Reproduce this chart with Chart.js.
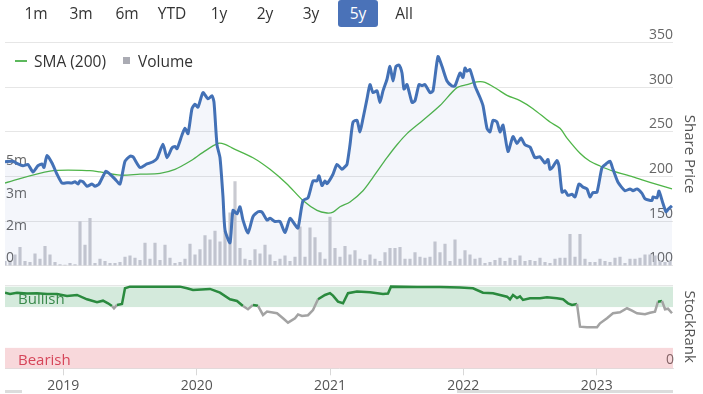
<!DOCTYPE html>
<html>
<head>
<meta charset="utf-8">
<script src="https://cdn.jsdelivr.net/npm/chart.js@4/dist/chart.umd.min.js"></script>
<style>
  body { margin: 0; background: #fff; font-family: "Open Sans", sans-serif; }
  #wrap { position: relative; width: 703px; height: 394px; overflow: hidden; }
  .btn { position: absolute; top: 0; height: 27px; line-height: 27px; font-size: 15.5px; color: #333; transform: translateX(-50%); }
  .btn.on { background: #4a72b8; color: #fff; width: 40px; text-align: center; border-radius: 3px; transform: none; }
  #legend { position: absolute; top: 48px; left: 15px; font-size: 15.5px; color: #333; }
  #legend span { display: inline-block; vertical-align: middle; }
  #c1 { position: absolute; left: 0; top: 0; }
  #c2 { position: absolute; left: 0; top: 275px; }
  .nav { position: absolute; top: 390px; height: 3px; background: #dcdcdc; }
</style>
</head>
<body>
<div id="wrap">
  <canvas id="c1" width="703" height="275"></canvas>
  <canvas id="c2" width="703" height="119"></canvas>
  <div class="btn" style="left:36px">1m</div>
  <div class="btn" style="left:81px">3m</div>
  <div class="btn" style="left:127px">6m</div>
  <div class="btn" style="left:172px">YTD</div>
  <div class="btn" style="left:219px">1y</div>
  <div class="btn" style="left:265px">2y</div>
  <div class="btn" style="left:311px">3y</div>
  <div class="btn on" style="left:338px">5y</div>
  <div class="btn" style="left:404px">All</div>
  <div id="legend">
    <span style="width:12px;height:2px;background:#5cb85c;margin-right:7px"></span><span>SMA (200)</span>
    <span style="width:7px;height:7px;background:#aaabb3;margin:0 8px 0 13px"></span><span>Volume</span>
  </div>
  <div class="nav" style="left:5px;width:17px"></div>
  <div class="nav" style="left:457px;width:216px"></div>
</div>
<script>
const xMin = 2018.5625;
const xMax = 2023.5725;
const yearTicks = [2019, 2020, 2021, 2022, 2023];

const priceDates = [2018.5625, 2018.6225, 2018.66, 2018.6975, 2018.735, 2018.7725, 2018.81, 2018.84, 2018.855, 2018.8775,
  2018.915, 2018.9525, 2018.99, 2019.0275, 2019.065, 2019.0875, 2019.11, 2019.125, 2019.1475, 2019.1775,
  2019.215, 2019.2375, 2019.2675, 2019.32, 2019.35, 2019.3875, 2019.425, 2019.4625, 2019.5, 2019.5225,
  2019.575, 2019.6275, 2019.6725, 2019.7025, 2019.7475, 2019.7775, 2019.815, 2019.8375, 2019.8525, 2019.89,
  2019.9125, 2019.935, 2019.965, 2019.9875, 2020.01, 2020.0475, 2020.085, 2020.115, 2020.13, 2020.1525,
  2020.175, 2020.1975, 2020.2125, 2020.25, 2020.2725, 2020.3025, 2020.325, 2020.3475, 2020.385, 2020.4225,
  2020.46, 2020.49, 2020.5275, 2020.55, 2020.5875, 2020.625, 2020.6625, 2020.7, 2020.7375, 2020.76,
  2020.7975, 2020.835, 2020.8725, 2020.9025, 2020.9175, 2020.94, 2020.9625, 2020.9775, 2021.0225, 2021.0525,
  2021.09, 2021.1125, 2021.1275, 2021.15, 2021.1725, 2021.2025, 2021.225, 2021.2475, 2021.2775, 2021.3,
  2021.3225, 2021.3525, 2021.375, 2021.3975, 2021.4275, 2021.45, 2021.4725, 2021.495, 2021.5175, 2021.54,
  2021.555, 2021.5775, 2021.615, 2021.6375, 2021.6675, 2021.69, 2021.7125, 2021.75, 2021.7725, 2021.81,
  2021.84, 2021.8775, 2021.915, 2021.9375, 2021.975, 2021.9975, 2022.0125, 2022.0275, 2022.05, 2022.0875,
  2022.125, 2022.1475, 2022.1775, 2022.2, 2022.2225, 2022.2525, 2022.275, 2022.2975, 2022.335, 2022.3725,
  2022.4025, 2022.4325, 2022.4625, 2022.5, 2022.5375, 2022.575, 2022.6125, 2022.635, 2022.65, 2022.6725,
  2022.7025, 2022.7175, 2022.74, 2022.7625, 2022.785, 2022.815, 2022.8375, 2022.8675, 2022.8975, 2022.9275,
  2022.95, 2022.9725, 2023.0025, 2023.04, 2023.07, 2023.1, 2023.1225, 2023.16, 2023.2125, 2023.25,
  2023.2725, 2023.3025, 2023.34, 2023.3625, 2023.415, 2023.4225, 2023.4525, 2023.4675, 2023.4975, 2023.52,
  2023.535, 2023.565];
const priceValues = [216.5, 217, 214, 212, 213.5, 205, 212, 214, 210, 223.5,
  215, 202.5, 192.6, 193, 192.6, 194, 191.5, 195, 194, 189,
  191.5, 189, 191.5, 206, 202.5, 197, 191.5, 217, 222.7, 222,
  210, 214, 216.5, 220, 236, 221, 232, 233.7, 231, 246.5,
  254, 248, 276, 281, 277.7, 294, 287, 290.5, 283, 235.5,
  221, 177, 140, 125.6, 162, 158, 166, 151, 136.6, 155,
  160.4, 160, 151, 153, 149.5, 149.5, 137, 153, 145.8, 142,
  173, 176, 195, 195, 200.7, 189.8, 195, 192, 202.5, 213.5,
  208, 211, 213.5, 235.5, 261, 263, 250, 265, 287, 303,
  294, 296, 283, 296, 309, 323.5, 307, 323.5, 325, 316,
  298, 303, 283, 285, 303, 302, 303, 294, 296, 334.4,
  323.5, 307, 301.5, 301.5, 316, 311, 321.6, 318, 319.8, 301.5,
  288.6, 279.5, 254, 250, 263, 261, 250, 257.5, 228, 244.7,
  237, 243, 235.5, 233, 221, 222, 215, 219, 208, 211,
  218, 211.7, 182.4, 184, 178.8, 180, 177, 191.5, 188, 186,
  177, 182, 182.4, 210, 214, 217, 208, 193.4, 184, 186,
  184, 186, 181, 175, 173, 177, 176, 183.5, 169.6, 160.4,
  163, 167];

const smaDates = [2018.5625, 2018.9, 2019.2, 2019.275, 2019.425, 2019.575, 2019.725, 2019.8375, 2019.95, 2020.0475,
  2020.16, 2020.2125, 2020.265, 2020.4225, 2020.55, 2020.6775, 2020.7975, 2020.9025, 2020.9775, 2021.0225,
  2021.075, 2021.15, 2021.2475, 2021.3225, 2021.4275, 2021.5025, 2021.5775, 2021.6975, 2021.825, 2021.9525,
  2022.0275, 2022.1025, 2022.1625, 2022.2525, 2022.3275, 2022.425, 2022.5225, 2022.65, 2022.725, 2022.7775,
  2022.875, 2022.95, 2023.025, 2023.1225, 2023.2725, 2023.4, 2023.565];
const smaValues = [192.6, 206, 206.5, 205, 201.4, 202.5, 203.5, 208, 217, 227,
  237, 236, 232, 221, 208, 191.5, 173, 162, 159, 160,
  166, 171.4, 184, 199, 221, 235.5, 248, 263, 279.5, 299.6,
  303, 306, 305.5, 298, 291, 285, 276, 261, 254, 243,
  226, 217, 211.7, 206, 199.6, 193.4, 186];

// volume in millions, one bar every two weeks from volStart
const volStart = 2018.5625;
const volStep = 0.0375;
const volValues = [0.2, 0.15, 0.5, 0.85, 0.2, 0.15, 0.55, 0.3, 0.9, 0.5,
  0.15, 0.05, 0.02, 0.1, 0.05, 2.05, 0.95, 2.2, 0.1, 0.3,
  0.2, 0.1, 0.1, 0.15, 0.4, 0.45, 0.35, 0.25, 1.05, 0.3,
  1.05, 0.25, 0.95, 0.35, 0.1, 0.15, 0.3, 1.0, 0.5, 0.75,
  1.4, 1.2, 1.6, 1.1, 1.6, 2.45, 3.9, 0.8, 0.3, 0.25,
  0.75, 0.55, 0.95, 0.5, 0.2, 0.3, 0.45, 0.2, 0.4, 1.8,
  0.4, 1.75, 1.3, 0.6, 0.3, 2.25, 0.8, 0.4, 0.9, 0.5,
  0.7, 0.3, 0.25, 0.5, 0.3, 0.2, 0.6, 0.8, 0.8, 0.85,
  0.3, 0.3, 0.6, 0.4, 0.35, 0.4, 1.1, 0.6, 1.0, 0.2,
  1.2, 0.3, 0.7, 0.5, 0.3, 0.35, 0.1, 0.15, 0.25, 0.35,
  0.2, 0.35, 0.25, 0.45, 0.2, 0.25, 0.2, 0.35, 0.15, 0.1,
  0.3, 0.35, 0.35, 1.45, 0.4, 1.45, 0.3, 0.15, 0.15, 0.3,
  0.2, 0.15, 0.35, 0.4, 0.1, 0.3, 0.3, 0.35, 0.5, 0.5,
  0.45, 0.2, 0.15, 0.2];
const volTicks = [0, 1.5, 3, 4.5];

const rankDates = [2018.5625, 2018.6, 2018.6525, 2018.7275, 2018.8025, 2018.8775, 2018.9525, 2019.0275, 2019.1025, 2019.1775,
  2019.2525, 2019.2975, 2019.335, 2019.365, 2019.38, 2019.4025, 2019.44, 2019.4625, 2019.5, 2019.65,
  2019.875, 2019.9275, 2019.9725, 2020.1, 2020.175, 2020.25, 2020.3025, 2020.3475, 2020.385, 2020.4225,
  2020.46, 2020.4975, 2020.5275, 2020.6025, 2020.6475, 2020.685, 2020.7375, 2020.76, 2020.79, 2020.835,
  2020.8725, 2020.91, 2020.9625, 2021.0, 2021.0225, 2021.06, 2021.0975, 2021.135, 2021.2025, 2021.3,
  2021.3975, 2021.435, 2021.4575, 2021.6525, 2021.825, 2021.975, 2022.0725, 2022.1475, 2022.2225, 2022.275,
  2022.3275, 2022.35, 2022.3725, 2022.4025, 2022.425, 2022.4475, 2022.5, 2022.575, 2022.6275, 2022.7025,
  2022.7475, 2022.785, 2022.815, 2022.8525, 2022.875, 2022.9275, 2023.0025, 2023.025, 2023.0775, 2023.1225,
  2023.175, 2023.2275, 2023.265, 2023.3025, 2023.3625, 2023.4, 2023.4375, 2023.46, 2023.49, 2023.5125,
  2023.535, 2023.565];
const rankValues = [92.6, 91, 92.5, 91.5, 92, 91, 91, 88.6, 89.8, 84.5,
  80.9, 82.8, 79.6, 76.3, 73.5, 77.6, 78.8, 98, 100, 100,
  100, 98, 96, 97.2, 92.6, 84.5, 82.5, 76.3, 72.3, 77.6,
  76.5, 65.3, 69.4, 67.4, 61.3, 55.9, 61.3, 66, 64.1, 65,
  71.4, 84.5, 89.8, 92, 89, 81.6, 79.6, 92, 93.9, 93.1,
  91, 91.5, 100, 99.5, 99.5, 99, 98, 92.6, 92, 89.8,
  87.7, 84.5, 89.8, 86, 88, 83.7, 85.8, 85.8, 87, 85.8,
  84.5, 79.6, 77.6, 78.8, 51, 50.2, 50.2, 55.1, 61.3, 67.4,
  68.6, 73.5, 70.6, 67.4, 66.2, 68, 69.4, 81.6, 82.5, 72.3,
  73, 67.4];

const bullishFrom = 75;
const bearishTo = 25;

const pts = (xs, ys) => xs.map((x, i) => ({ x: x, y: ys[i] }));
const volPoints = volValues.map((v, i) => ({ x: volStart + i * volStep, y: v }));

const FONT = "'Open Sans', sans-serif";

new Chart(document.getElementById("c1"), {
  type: "line",
  data: {
    datasets: [
      {
        label: "Price",
        data: pts(priceDates, priceValues),
        yAxisID: "yPrice",
        borderColor: "#4371b6",
        borderWidth: 3,
        backgroundColor: "rgba(70,100,190,0.06)",
        fill: "start",
        pointRadius: 0,
        tension: 0.2,
        order: 0
      },
      {
        label: "SMA (200)",
        data: pts(smaDates, smaValues),
        yAxisID: "yPrice",
        borderColor: "#4fb548",
        borderWidth: 1.3,
        pointRadius: 0,
        tension: 0.3,
        order: 1
      },
      {
        type: "bar",
        label: "Volume",
        data: volPoints,
        yAxisID: "yVol",
        backgroundColor: "#c9cad1",
        barThickness: 2.5,
        order: 2
      }
    ]
  },
  options: {
    responsive: false,
    animation: false,
    layout: { padding: { top: 42.7, bottom: 5, left: 0, right: 0 } },
    plugins: { legend: { display: false }, tooltip: { enabled: false } },
    scales: {
      x: { type: "linear", min: xMin, max: xMax, offset: false, grid: { offset: false }, display: false },
      yPrice: {
        position: "right",
        min: 100,
        max: 350,
        afterBuildTicks: scale => { scale.ticks = [100, 150, 200, 250, 300, 350].map(v => ({ value: v })); },
        afterFit: scale => { scale.width = 30; },
        grid: { color: "#e6e6e6", drawTicks: false },
        border: { display: false },
        ticks: { mirror: true, padding: 0, labelOffset: -7.5, color: "#666", font: { family: FONT, size: 14 } },
        title: { display: true, text: "Share Price", color: "#555", font: { family: FONT, size: 15 }, padding: { top: 5 } }
      },
      yVol: {
        position: "left",
        min: 0,
        max: 10.36,
        afterBuildTicks: scale => { scale.ticks = volTicks.map(v => ({ value: v })); },
        afterFit: scale => { scale.width = 5; },
        grid: { display: false },
        border: { display: false },
        ticks: {
          mirror: true,
          padding: 1,
          labelOffset: -7.5,
          color: "#666",
          font: { family: FONT, size: 14 },
          callback: v => (v === 0 ? "0" : Math.round(v) + "m")
        }
      }
    }
  }
});

const bandsPlugin = {
  id: "bands",
  beforeDatasetsDraw(chart) {
    const { ctx, chartArea } = chart;
    const y = chart.scales.yRank;
    ctx.save();
    ctx.fillStyle = "rgba(60,160,95,0.22)";
    ctx.fillRect(chartArea.left, y.getPixelForValue(100), chartArea.width, y.getPixelForValue(bullishFrom) - y.getPixelForValue(100));
    ctx.fillStyle = "rgba(225,90,105,0.24)";
    ctx.fillRect(chartArea.left, y.getPixelForValue(bearishTo), chartArea.width, y.getPixelForValue(0) - y.getPixelForValue(bearishTo));
    ctx.font = "15px " + FONT;
    ctx.textBaseline = "middle";
    ctx.fillStyle = "#3a8a4c";
    ctx.fillText("Bullish", chartArea.left + 13, y.getPixelForValue(84));
    ctx.fillStyle = "#d64559";
    ctx.fillText("Bearish", chartArea.left + 13, y.getPixelForValue(9.5));
    ctx.restore();
  }
};

new Chart(document.getElementById("c2"), {
  type: "line",
  data: {
    datasets: [
      {
        label: "StockRank",
        data: pts(rankDates, rankValues),
        yAxisID: "yRank",
        borderWidth: 2.5,
        borderColor: "#2a8a3e",
        segment: {
          borderColor: c => (c.p0.parsed.y >= bullishFrom && c.p1.parsed.y >= bullishFrom ? "#2a8a3e" : "#a3a3a3")
        },
        pointRadius: 0,
        tension: 0
      }
    ]
  },
  options: {
    responsive: false,
    animation: false,
    layout: { padding: { top: 10, bottom: 0, left: 5, right: 0 } },
    plugins: { legend: { display: false }, tooltip: { enabled: false } },
    scales: {
      x: {
        type: "linear",
        min: xMin,
        max: xMax,
        afterBuildTicks: scale => { scale.ticks = yearTicks.map(v => ({ value: v })); },
        afterFit: scale => { scale.height = 25.7; },
        grid: { drawOnChartArea: false, color: "#d8d8d8", tickLength: 7 },
        border: { color: "#e3e3e3" },
        ticks: { padding: 2, color: "#555", font: { family: FONT, size: 14 }, callback: v => String(v) }
      },
      yRank: {
        position: "right",
        min: 0,
        max: 102,
        afterBuildTicks: scale => { scale.ticks = [{ value: 0 }, { value: 102 }]; },
        afterFit: scale => { scale.width = 30; },
        grid: { drawTicks: false, color: c => (c.tick && c.tick.value === 102 ? "#e6e6e6" : "rgba(0,0,0,0)") },
        border: { display: false },
        ticks: { mirror: true, padding: 1, labelOffset: -8, color: "#666", font: { family: FONT, size: 14 }, callback: v => (v === 0 ? "0" : "") },
        title: { display: true, text: "StockRank", color: "#555", font: { family: FONT, size: 15 }, padding: { top: 5 } }
      }
    }
  },
  plugins: [bandsPlugin]
});
</script>
</body>
</html>
